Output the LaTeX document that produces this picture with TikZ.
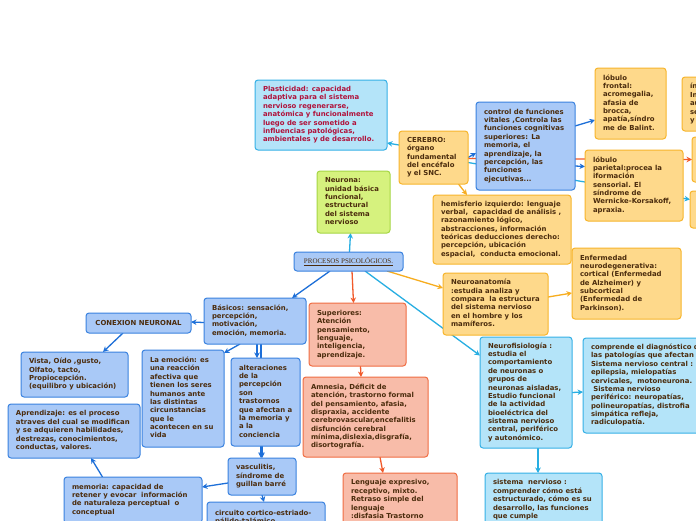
\documentclass[tikz,border=0pt]{standalone}
\usepackage{fontspec}
\setmainfont{DejaVu Sans}
\newfontfamily\serifproc{Liberation Serif}
\usetikzlibrary{arrows.meta}
\definecolor{tx}{HTML}{4B2C0D}
\definecolor{ptx}{HTML}{B0123B}
\definecolor{bf}{HTML}{A9C9F7}\definecolor{bd}{HTML}{3A82DF}
\definecolor{cf}{HTML}{B4E4F9}\definecolor{cd}{HTML}{35B0E6}
\definecolor{yf}{HTML}{FED98B}\definecolor{yd}{HTML}{F7B52C}
\definecolor{sf}{HTML}{F8BCA9}\definecolor{sd}{HTML}{F06D43}
\definecolor{gf}{HTML}{D6F27E}\definecolor{gd}{HTML}{A6D645}
\definecolor{eblue}{HTML}{1D6FD8}\definecolor{ecyan}{HTML}{27AEE2}
\definecolor{eorange}{HTML}{F7AD1F}\definecolor{ered}{HTML}{F15A2B}
\pgfdeclarelayer{bgl}
\pgfdeclarelayer{edges}
\pgfsetlayers{bgl,edges,main}
\newcommand\T[2]{\makebox[#1pt][l]{\begin{tabular}{@{}l@{}}#2\end{tabular}}}
\tikzset{
  box/.style={rounded corners=3pt, line width=1pt, inner xsep=8pt, inner ysep=4pt,
    anchor=north west, text=tx, outer sep=0pt,
    font=\fontsize{6.9}{8.35}\selectfont\bfseries},
  bbox/.style={box, draw=bd, fill=bf},
  cbox/.style={box, draw=cd, fill=cf},
  ybox/.style={box, draw=yd, fill=yf},
  sbox/.style={box, draw=sd, fill=sf},
  gbox/.style={box, draw=gd, fill=gf},
  conn/.style={line width=1.3pt, -{Stealth[length=5.5pt,width=5.5pt]}},
  cb/.style={conn, draw=eblue},
  cc/.style={conn, draw=ecyan},
  co/.style={conn, draw=eorange},
  cr/.style={conn, draw=ered},
}
\begin{document}
\begin{tikzpicture}[x=1pt,y=-1pt]
\useasboundingbox (0,0) rectangle (696,520);
\begin{pgfonlayer}{bgl}
\fill[white] (0,0) rectangle (696,520);
\end{pgfonlayer}
\begin{scope}
\clip (0,0) rectangle (696,520);
% ---- top / right cluster
\node[cbox, text=ptx, minimum height=70pt] (plast) at (255,80)
 {\T{116}{Plasticidad: capacidad\\adaptiva para el sistema\\nervioso regenerarse,\\anatómica y funcionalmente\\luego de ser sometido a\\influencias patológicas,\\ambientales y de desarrollo.}};
\node[ybox, minimum height=53pt] (cerebro) at (399,131)
 {\T{53}{CEREBRO:\\órgano\\fundamental\\del encéfalo\\y el SNC.}};
\node[bbox, minimum height=88pt] (control) at (476,102)
 {\T{83}{control de funciones\\vitales ,Controla las\\funciones cognitivas\\superiores: La\\memoria, el\\aprendizaje, la\\percepción, las\\funciones\\ejecutivas...}};
\node[ybox, minimum height=71pt] (lfront) at (595,68)
 {\T{55}{lóbulo\\frontal:\\acromegalia,\\afasia de\\brocca,\\apatía,síndro\\me de Balint.}};
\node[ybox, minimum height=54pt] (rtop) at (682,77)
 {\T{60}{ínsula:\\Interviene\\auditiva,\\sensorial\\y motora}};
\node[ybox, minimum height=71pt] (lpar) at (585,150)
 {\T{82}{lóbulo\\parietal:procea la\\iformación\\sensorial. El\\síndrome de\\Wernicke-Korsakoff,\\apraxia.}};
\node[ybox, minimum width=60pt, minimum height=45pt] (rmid) at (692,137) {};
\node[ybox, minimum width=60pt, minimum height=37pt] (rlow) at (690,191) {};
\node[ybox, minimum height=69pt] (hemi) at (433,195)
 {\T{122}{hemisferio izquierdo: lenguaje\\verbal,\ \ capacidad de análisis ,\\razonamiento lógico,\\abstracciones, información\\teóricas deducciones derecho:\\percepción, ubicación\\espacial,\ \ conducta emocional.}};
\node[ybox, minimum height=62pt] (neuroan) at (443,273)
 {\T{89}{Neuroanatomía\\:estudia analiza y\\compara\ \ la estructura\\del sistema nervioso\\en el hombre y los\\mamíferos.}};
\node[ybox, minimum height=71pt] (enferm) at (572,248)
 {\T{93}{Enfermedad\\neurodegenerativa:\\cortical (Enfermedad\\de Alzheimer) y\\subcortical\\(Enfermedad de\\Parkinson).}};
\node[cbox, minimum height=111pt] (neurofis) at (480,337)
 {\T{76}{Neurofisiología :\\estudia el\\comportamiento\\de neuronas o\\grupos de\\neuronas aisladas,\\Estudio funcional\\de la actividad\\bioeléctrica del\\sistema nervioso\\central, periférico\\y autonómico.}};
\node[cbox, minimum height=95pt] (compr) at (583,338)
 {\T{124}{comprende el diagnóstico de\\las patologías que afectan al\\Sistema nervioso central :\\epilepsia, mielopatías\\cervicales,\ \ motoneurona.\\\ Sistema nervioso\\periférico: neuropatías,\\polineuropatías, distrofia\\simpática refleja,\\radiculopatía.}};
\node[cbox, minimum height=54pt] (sistema) at (485,473)
 {\T{101}{sistema\ \ nervioso :\\comprender cómo está\\estructurado, cómo es su\\desarrollo, las funciones\\que cumple}};
\node[gbox, minimum height=62pt] (neurona) at (317,171)
 {\T{57}{Neurona:\\unidad básica\\funcional,\\estructural\\del sistema\\nervioso}};
% ---- centre
\node[bbox, minimum width=109pt, minimum height=19pt, inner sep=0pt,
  font=\serifproc\fontsize{7}{8}\selectfont] (procesos) at (294,252)
 {\underline{PROCESOS PSICOLÓGICOS.}};
\node[bbox, minimum height=46pt] (basicos) at (204,298)
 {\T{86}{Básicos: sensación,\\percepción,\\motivación,\\emoción, memoria.}};
\node[bbox, minimum width=105pt, minimum height=20pt, inner sep=0pt] (conexion) at (86,313)
 {CONEXION NEURONAL};
\node[bbox, minimum height=45pt] (vista) at (21,352)
 {\T{91}{Vista, Oído ,gusto,\\Olfato, tacto,\\Propiocepción.\\(equilibro y ubicación)}};
\node[bbox, minimum height=97pt] (emocion) at (142,350)
 {\T{66}{La emoción: es\\una reacción\\afectiva que\\tienen los seres\\humanos ante\\las distintas\\circunstancias\\que le\\acontecen en su\\vida}};
\node[bbox, minimum height=88pt] (alter) at (231,358)
 {\T{53}{alteraciones\\de la\\percepción\\son\\trastornos\\que afectan a\\la memoria y\\a la\\conciencia}};
\node[bbox, minimum height=54pt] (aprend) at (8,404)
 {\T{116}{Aprendizaje: es el proceso\\atraves del cual se modifican\\y se adquieren habilidades,\\destrezas, conocimientos,\\conductas, valores.}};
\node[bbox, minimum height=37pt] (vascul) at (228,458)
 {\T{52}{vasculitis,\\síndrome de\\guillan barré}};
\node[bbox, minimum height=46pt] (memoria) at (64,477)
 {\T{122}{memoria: capacidad de\\retener y evocar\ \ información\\de naturaleza perceptual\ \ o\\conceptual}};
\node[bbox, minimum height=32pt] (circuito) at (207,502)
 {\T{102}{circuito cortico-estriado-\\pálido-talámico}};
\node[sbox, minimum height=63pt] (super) at (309,303)
 {\T{81}{Superiores:\\Atención\\pensamiento,\\lenguaje,\\inteligencia,\\aprendizaje.}};
\node[sbox, minimum height=80pt] (amnesia) at (303,377)
 {\T{109}{Amnesia, Déficit de\\atención, trastorno formal\\del pensamiento, afasia,\\dispraxia, accidente\\cerebrovascular,encefalitis\\disfunción cerebral\\mínima,dislexia,disgrafía,\\disortografía.}};
\node[sbox, minimum height=54pt] (lenguaje) at (343,473)
 {\T{98}{Lenguaje expresivo,\\receptivo, mixto.\\Retraso simple del\\lenguaje\\:disfasia Trastorno}};
\end{scope}
% ---- connectors
\begin{pgfonlayer}{edges}
\draw[cc] ([xshift=1]procesos.north) -- ([xshift=-3]neurona.south);
\draw[cb] ([xshift=-18.5]procesos.south) -- ([xshift=37]basicos.north);
\draw[cr] ([xshift=3.5]procesos.south) -- ([xshift=-4]super.north);
\draw[co] ([xshift=-16]procesos.south east) -- ([yshift=16]neuroan.west);
\draw[cc] ([xshift=16.5]procesos.south) -- ([yshift=37]neurofis.west);
\draw[cb] ([yshift=-1.5]basicos.west) -- ([yshift=1]conexion.east);
\draw[cb] ([xshift=-15.5]conexion.south) -- ([xshift=28.5]vista.north);
\draw[cb] ([xshift=-15]basicos.south) -- ([yshift=-3]emocion.north east);
\draw[cb] ([xshift=2]basicos.south) -- ([xshift=-8.5]alter.north);
\draw[cb] ([xshift=6]basicos.south) -- ([xshift=-1]vascul.north);
\draw[cb] ([xshift=-3.5]alter.south) -- ([xshift=0]vascul.north);
\draw[cb] ([yshift=-6.5]vascul.west) -- ([yshift=13]memoria.east);
\draw[cb] (vascul.south) -- ([xshift=-2]circuito.north);
\draw[cb] ([xshift=-30.5]memoria.north) -- ([xshift=17]aprend.south);
\draw[cr] ([xshift=3]super.south) -- ([xshift=-4.5]amnesia.north);
\draw[cr] ([xshift=14.5]amnesia.south) -- ([xshift=-17]lenguaje.north);
\draw[cc] ([yshift=12.5]cerebro.west) -- ([yshift=-28]plast.east);
\draw[cr] ([yshift=-1]cerebro.east) -- (rmid.west);
\draw[cc] ([yshift=-5]cerebro.east) -- ([yshift=10]rlow.west);
\draw[cb] (cerebro.east) -- ([yshift=-7]control.west);
\draw[co] ([xshift=25]cerebro.south) -- ([xshift=-35]hemi.north);
\draw[cb] ([yshift=20]control.east) -- ([yshift=-16.5]lfront.west);
\draw[cb] ([yshift=-20]control.east) -- ([yshift=19]lpar.west);
\draw[co] ([yshift=7]neuroan.east) -- ([yshift=-9.5]enferm.west);
\draw[cc] (neurofis.east) -- ([yshift=-6.5]compr.west);
\draw[cc] ([xshift=12]neurofis.south) -- ([xshift=-5.5]sistema.north);
\end{pgfonlayer}
\end{tikzpicture}
\end{document}
